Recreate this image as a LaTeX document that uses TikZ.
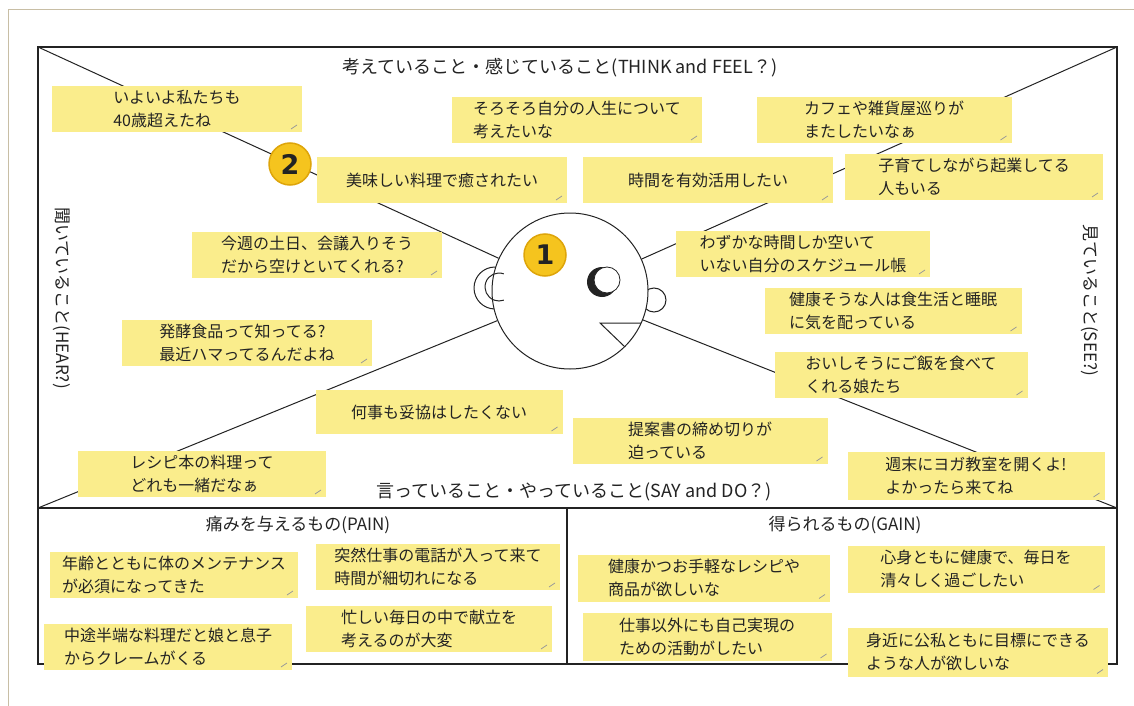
\documentclass[tikz,border=0pt]{standalone}
\usepackage{fontspec}
\newfontfamily\jp{Noto Sans CJK JP}
\newfontfamily\digits{DejaVu Sans}
\definecolor{notey}{RGB}{250,237,140}
\definecolor{badgey}{RGB}{245,196,30}
\definecolor{badger}{RGB}{222,165,10}
\definecolor{pageline}{RGB}{200,190,165}
\definecolor{ink}{RGB}{35,35,35}

\begin{document}
\begin{tikzpicture}[x = 1pt, y = -1pt,
    note/.style = {fill = notey, minimum width = 250pt, minimum height = 46pt, align = left,
        inner xsep = 6pt, inner ysep = 2pt, text = ink, font = \jp\fontsize{16}{23}\selectfont,
        path picture = {\draw[black!40, line width = 0.8pt] ([shift = {(-11pt, 3pt)}]path picture bounding box.south east) -- ++(6pt, 4pt);}},
    title/.style = {text = ink, font = \jp\fontsize{18}{22}\selectfont},
    badge/.style = {circle, fill = badgey, draw = badger, line width = 1.5pt, minimum size = 42pt,
        inner sep = 0pt, text = ink, font = \digits\bfseries\fontsize{27}{27}\selectfont},
    frame/.style = {draw = ink, line width = 1.4pt},
    ray/.style = {draw = ink, line width = 1pt}]
    \useasboundingbox (0, 0) rectangle (1134, 706);
    \fill[white] (0, 0) rectangle (1134, 706);
    \draw[pageline, line width = 1pt] (8, 706) -- (8, 10) -- (1134, 10);

    \coordinate (tl) at (38, 47);
    \coordinate (tr) at (1117, 47);
    \coordinate (ml) at (38, 508);
    \coordinate (mr) at (1117, 508);
    \coordinate (br) at (1117, 664);
    \coordinate (mt) at (567, 508);
    \coordinate (mb) at (567, 664);
    \draw[frame] (tl) rectangle (br);
    \draw[frame] (ml) -- (mr);
    \draw[frame] (mt) -- (mb);

    \draw[ink, line width = 1pt, fill = white] (495, 288) circle (21pt);
    \draw[ink, line width = 1pt, fill = white] (654, 300) circle (12pt);
    \node[circle, draw = ink, line width = 1pt, fill = white, minimum size = 156pt] (head) at (570, 291) {};
    \draw[ray] (tl) -- (head);
    \draw[ray] (tr) -- (head);
    \draw[ray] (ml) -- (head);
    \draw[ray] (mr) -- (head);
    \draw[ink, line width = 1pt] (499, 287) ++(70:14pt) arc[start angle = 70, end angle = 290, radius = 14pt];
    \fill[ink] (602, 282) circle (15pt);
    \draw[ink, line width = 0.8pt, fill = white] (607, 280) circle (13pt);
    \draw[ink, line width = 1pt] (625, 347) -- (600, 323) -- (641, 323);
    \node[badge] (one) at (545, 255) {1};

    \node[note] (n1) at (177, 109) {いよいよ私たちも\\40歳超えたね};
    \node[note] (n2) at (442, 180) {美味しい料理で癒されたい};
    \node[note] (n3) at (577, 120) {そろそろ自分の人生について\\考えたいな};
    \node[note] (n4) at (708, 180) {時間を有効活用したい};
    \node[note, minimum width = 255pt] (n5) at (884, 120) {カフェや雑貨屋巡りが\\またしたいなぁ};
    \node[note, minimum width = 258pt] (n6) at (974, 177) {子育てしながら起業してる\\人もいる};
    \node[note] (n7) at (317, 255) {今週の土日、会議入りそう\\だから空けといてくれる?};
    \node[note, minimum width = 254pt] (n8) at (803, 254) {わずかな時間しか空いて\\いない自分のスケジュール帳};
    \node[note, minimum width = 257pt] (n9) at (893, 311) {健康そうな人は食生活と睡眠\\に気を配っている};
    \node[note] (n10) at (247, 343) {発酵食品って知ってる?\\最近ハマってるんだよね};
    \node[note, minimum width = 253pt] (n11) at (901, 375) {おいしそうにご飯を食べて\\くれる娘たち};
    \node[note, minimum width = 247pt, minimum height = 44pt] (n12) at (439, 412) {何事も妥協はしたくない};
    \node[note, minimum width = 255pt] (n13) at (700, 441) {提案書の締め切りが\\迫っている};
    \node[note, minimum width = 248pt] (n14) at (202, 474) {レシピ本の料理って\\どれも一緒だなぁ};
    \node[note, minimum width = 257pt, minimum height = 48pt] (n15) at (976, 476) {週末にヨガ教室を開くよ!\\よかったら来てね};
    \node[badge] (two) at (290, 164) {2};

    \node[note, minimum width = 248pt] (p1) at (174, 575) {年齢とともに体のメンテナンス\\が必須になってきた};
    \node[note, minimum width = 244pt] (p2) at (438, 567) {突然仕事の電話が入って来て\\時間が細切れになる};
    \node[note, minimum width = 246pt] (p3) at (429, 629) {忙しい毎日の中で献立を\\考えるのが大変};
    \node[note, minimum width = 248pt] (p4) at (168, 647) {中途半端な料理だと娘と息子\\からクレームがくる};
    \node[note, minimum width = 252pt, minimum height = 47pt] (g1) at (704, 578) {健康かつお手軽なレシピや\\商品が欲しいな};
    \node[note, minimum width = 257pt, minimum height = 47pt] (g2) at (976, 569) {心身ともに健康で、毎日を\\清々しく過ごしたい};
    \node[note, minimum width = 249pt, minimum height = 48pt] (g3) at (707, 637) {仕事以外にも自己実現の\\ための活動がしたい};
    \node[note, minimum width = 260pt, minimum height = 49pt] (g4) at (978, 652) {身近に公私ともに目標にできる\\ような人が欲しいな};

    \node[title] (think) at (560, 68) {考えていること・感じていること(THINK and FEEL？)};
    \node[title] (say) at (574, 492) {言っていること・やっていること(SAY and DO？)};
    \node[title, rotate = -90, font = \jp\fontsize{17}{20}\selectfont] (hear) at (62, 298) {聞いていること(HEAR?)};
    \node[title, rotate = -90, font = \jp\fontsize{17}{20}\selectfont] (see) at (1090, 300) {見ていること(SEE?)};
    \node[title, font = \jp\fontsize{17}{20}\selectfont] (pain) at (298, 525) {痛みを与えるもの(PAIN)};
    \node[title, font = \jp\fontsize{17}{20}\selectfont] (gain) at (845, 525) {得られるもの(GAIN)};
\end{tikzpicture}
\end{document}
